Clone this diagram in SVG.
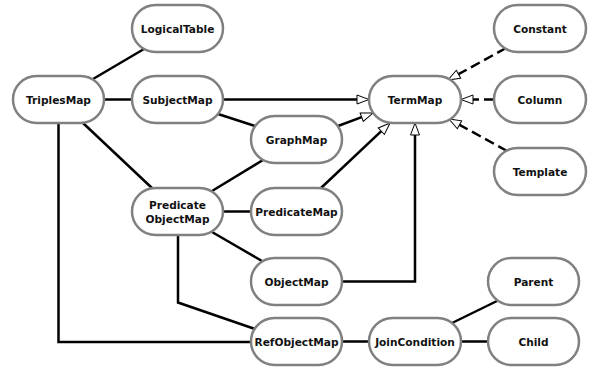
<svg xmlns="http://www.w3.org/2000/svg" width="590" height="374" viewBox="0 0 590 374">
  <style>
    .node rect { fill: #ffffff; stroke: #808080; stroke-width: 2.5; }
    .node text { font-family: "DejaVu Sans", "Liberation Sans", sans-serif; font-weight: bold; font-size: 10.6px; fill: #111111; text-anchor: middle; dominant-baseline: central; }
    .edge { fill: none; stroke: #000000; stroke-width: 2.5; }
    .arrow { marker-end: url(#hollow); }
    .dashed { stroke-dasharray: 10 5; }
  </style>
  <defs>
    <!-- hollow triangle; refX at its base so the line stops where the head begins -->
    <marker id="hollow" markerUnits="userSpaceOnUse" markerWidth="16" markerHeight="14" refX="0" refY="5" orient="auto" overflow="visible">
      <path d="M0,0.5 L12,5 L0,9.5 Z" fill="#ffffff" stroke="#000000" stroke-width="1"/>
    </marker>
  </defs>

  <!-- connectors -->
  <g id="edges">
    <line class="edge" x1="93" y1="79" x2="144" y2="49"/>
    <line class="edge" x1="104" y1="99.5" x2="132" y2="99.5"/>
    <line class="edge arrow" x1="223" y1="99.5" x2="357" y2="99.5"/>
    <line class="edge" x1="218" y1="114" x2="255" y2="126"/>
    <line class="edge" x1="83" y1="123" x2="153" y2="189"/>
    <line class="edge" x1="263" y1="160" x2="212" y2="191"/>
    <line class="edge arrow" x1="338" y1="126" x2="361.7" y2="117.2"/>
    <line class="edge arrow" x1="321" y1="188" x2="381.3" y2="131.2"/>
    <path class="edge arrow" d="M342,281.5 H415 V135"/>
    <line class="edge dashed arrow" x1="506" y1="48" x2="458.5" y2="74.2"/>
    <line class="edge dashed arrow" x1="494" y1="99.5" x2="473" y2="99.5"/>
    <line class="edge dashed arrow" x1="507" y1="151" x2="459.5" y2="124.8"/>
    <line class="edge" x1="223" y1="211.5" x2="251" y2="211.5"/>
    <line class="edge" x1="212" y1="232" x2="262" y2="261"/>
    <path class="edge" d="M178,235 V302.5 L255,329"/>
    <path class="edge" d="M58.5,123 V342 H251"/>
    <line class="edge" x1="342" y1="341.5" x2="369" y2="341.5"/>
    <line class="edge" x1="452" y1="323" x2="497" y2="301"/>
    <line class="edge" x1="461" y1="341.5" x2="488" y2="341.5"/>
  </g>

  <!-- nodes -->
  <g id="LogicalTable" class="node"><rect x="132" y="5" width="91" height="47" rx="23.5"/><text x="177.5" y="28.5">LogicalTable</text></g>
  <g id="TriplesMap" class="node"><rect x="13" y="76" width="91" height="47" rx="23.5"/><text x="58.5" y="99.5">TriplesMap</text></g>
  <g id="SubjectMap" class="node"><rect x="132" y="76" width="91" height="47" rx="23.5"/><text x="177.5" y="99.5">SubjectMap</text></g>
  <g id="GraphMap" class="node"><rect x="251" y="116" width="91" height="47" rx="23.5"/><text x="296.5" y="139.5">GraphMap</text></g>
  <g id="TermMap" class="node"><rect x="369" y="76" width="92" height="47" rx="23.5"/><text x="415" y="99.5">TermMap</text></g>
  <g id="Constant" class="node"><rect x="494" y="5" width="92" height="47" rx="23.5"/><text x="540" y="28.5">Constant</text></g>
  <g id="Column" class="node"><rect x="494" y="76" width="92" height="47" rx="23.5"/><text x="540" y="99.5">Column</text></g>
  <g id="Template" class="node"><rect x="494" y="148" width="92" height="47" rx="23.5"/><text x="540" y="171.5">Template</text></g>
  <g id="PredicateObjectMap" class="node"><rect x="132" y="188" width="91" height="47" rx="23.5"/><text x="177.5" y="205">Predicate</text><text x="177.5" y="218.5">ObjectMap</text></g>
  <g id="PredicateMap" class="node"><rect x="251" y="188" width="91" height="47" rx="23.5"/><text x="296.5" y="211.5">PredicateMap</text></g>
  <g id="ObjectMap" class="node"><rect x="251" y="258" width="91" height="47" rx="23.5"/><text x="296.5" y="281.5">ObjectMap</text></g>
  <g id="RefObjectMap" class="node"><rect x="251" y="318" width="91" height="47" rx="23.5"/><text x="296.5" y="341.5">RefObjectMap</text></g>
  <g id="JoinCondition" class="node"><rect x="369" y="318" width="92" height="47" rx="23.5"/><text x="415" y="341.5">JoinCondition</text></g>
  <g id="Parent" class="node"><rect x="488" y="258" width="91" height="47" rx="23.5"/><text x="533.5" y="281.5">Parent</text></g>
  <g id="Child" class="node"><rect x="488" y="318" width="91" height="47" rx="23.5"/><text x="533.5" y="341.5">Child</text></g>
</svg>
